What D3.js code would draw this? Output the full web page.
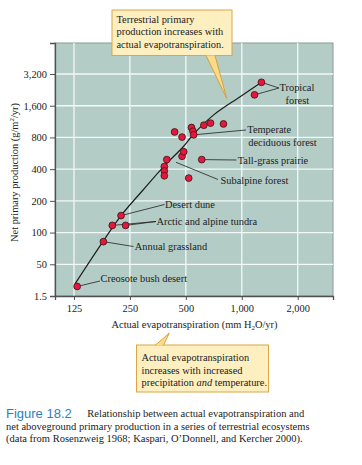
<!DOCTYPE html>
<html>
<head>
<meta charset="utf-8">
<script src="https://cdn.jsdelivr.net/npm/d3@7/dist/d3.min.js"></script>
<style>
  body { margin: 0; background: #fff; }
  svg text { font-family: "Liberation Serif", "Times New Roman", serif; fill: #222; }
</style>
</head>
<body>
<svg id="chart" width="362" height="465"></svg>
<script>
// data
var aet = [130, 180, 201, 237, 224,
    383, 383, 383, 395, 477, 487, 518, 609,
    435, 477, 536, 546, 551, 625, 679, 797,
    1276, 1171];
var npp = [30.8, 82, 117, 117, 145,
    423, 385, 346, 493, 530, 585, 329, 493,
    902, 806, 994, 917, 847, 1045, 1094, 1075,
    2670, 2030];

// fitted curve
var curveAet = [126.6, 180, 224, 295, 383, 484, 548, 701, 975, 1276];
var curveNpp = [32.6, 83.4, 145, 255, 430, 653, 853, 1296, 1937, 2670];

var xTicks = [125, 250, 500, 1000, 2000];
var yTicks = [25, 50, 100, 200, 400, 800, 1600, 3200];
var yTickLabels = ["1.5", "50", "100", "200", "400", "800", "1,600", "3,200"];

(function chart() {
    var svg = d3.select("#chart"),
        left = 55, right = 333, top = 43, bottom = 296;

    var x = d3.scaleLog().domain([98.8, 3097]).range([left, right]),
        y = d3.scaleLog().domain([25, 6304]).range([bottom, top]);

    // plot background
    svg.append("rect")
        .attr("x", left).attr("y", top)
        .attr("width", right - left).attr("height", bottom - top)
        .attr("fill", "#b3ccc6")
        .attr("stroke", "#8c9c98")
        .attr("stroke-width", 1);

    // grid
    svg.append("g").selectAll("line")
        .data(xTicks)
        .enter().append("line")
        .attr("x1", function (d) { return x(d); })
        .attr("x2", function (d) { return x(d); })
        .attr("y1", top).attr("y2", bottom)
        .attr("stroke", "#f4f8f7").attr("stroke-width", 1.3);

    svg.append("g").selectAll("line")
        .data(yTicks.slice(1))
        .enter().append("line")
        .attr("y1", function (d) { return y(d); })
        .attr("y2", function (d) { return y(d); })
        .attr("x1", left).attr("x2", right)
        .attr("stroke", "#f4f8f7").attr("stroke-width", 1.3);

    // axes
    var xAxis = svg.append("g")
        .attr("transform", "translate(0," + bottom + ")")
        .call(d3.axisBottom(x).tickValues(xTicks).tickSize(4).tickPadding(5)
            .tickFormat(d3.format(",")));
    var yAxis = svg.append("g")
        .attr("transform", "translate(" + left + ",0)")
        .call(d3.axisLeft(y).tickValues(yTicks).tickSize(5).tickPadding(3)
            .tickFormat(function (d, i) { return yTickLabels[i]; }));

    [xAxis, yAxis].forEach(function (a) {
        a.select(".domain").attr("stroke", "#505050").attr("stroke-width", 1.3);
        a.selectAll(".tick line").attr("stroke", "#505050").attr("stroke-width", 1);
        a.selectAll("text")
            .attr("font-family", "Liberation Serif")
            .attr("font-size", 10.4)
            .attr("fill", "#222");
    });

    // axis titles
    var xl = svg.append("text")
        .attr("x", 194.5).attr("y", 327.8)
        .attr("text-anchor", "middle")
        .attr("font-size", 10.4);
    xl.append("tspan").text("Actual evapotranspiration (mm H");
    xl.append("tspan").attr("font-size", 7).attr("dy", 2.5).text("2");
    xl.append("tspan").attr("dy", -2.5).text("O/yr)");

    var yl = svg.append("text")
        .attr("transform", "translate(17.5,172.5) rotate(-90)")
        .attr("text-anchor", "middle")
        .attr("font-size", 10.4);
    yl.append("tspan").text("Net primary production (g/m");
    yl.append("tspan").attr("font-size", 7).attr("dy", -4).text("2");
    yl.append("tspan").attr("dy", 4).text("/yr)");

    // leader lines (drawn under the points)
    var leaders = [
        [21, 279, 88], [22, 279, 88],
        [17, 246, 130],
        [12, 236.5, 160],
        [null, 218, 179.5],
        [4, 164.5, 204.5],
        [2, 156, 221.5], [3, 156, 221.5],
        [1, 133.5, 246.5],
        [0, 100, 281]
    ];
    svg.append("g").selectAll("line")
        .data(leaders)
        .enter().append("line")
        .attr("x1", function (d) { return d[0] === null ? 176 : x(aet[d[0]]); })
        .attr("y1", function (d) { return d[0] === null ? 162.3 : y(npp[d[0]]); })
        .attr("x2", function (d) { return d[1]; })
        .attr("y2", function (d) { return d[2]; })
        .attr("stroke", "#222").attr("stroke-width", 0.8);

    // fitted curve
    var pts = curveAet.map(function (d, i) { return [d, curveNpp[i]]; });
    svg.append("path")
        .datum(pts)
        .attr("fill", "none")
        .attr("stroke", "#1e1e1e")
        .attr("stroke-width", 1.2)
        .attr("d", d3.line()
            .x(function (d) { return x(d[0]); })
            .y(function (d) { return y(d[1]); })
            .curve(d3.curveCatmullRom));

    // points
    svg.append("g").selectAll("circle")
        .data(aet)
        .enter().append("circle")
        .attr("cx", function (d) { return x(d); })
        .attr("cy", function (d, i) { return y(npp[i]); })
        .attr("r", 3.4)
        .attr("fill", "#e5173d")
        .attr("stroke", "#3a1515")
        .attr("stroke-width", 0.8);

    // labels
    var labels = [
        ["Tropical", 279.5, 91],
        ["forest", 285.5, 103.5],
        ["Temperate", 247.3, 133.2],
        ["deciduous forest", 248.3, 145.7],
        ["Tall-grass prairie", 237.7, 164],
        ["Subalpine forest", 220.5, 184],
        ["Desert dune", 165, 207.7],
        ["Arctic and alpine tundra", 156.5, 225],
        ["Annual grassland", 134.8, 250],
        ["Creosote bush desert", 100.5, 281.8]
    ];
    svg.append("g").selectAll("text")
        .data(labels)
        .enter().append("text")
        .attr("x", function (d) { return d[1]; })
        .attr("y", function (d) { return d[2]; })
        .attr("font-size", 10.4)
        .text(function (d) { return d[0]; });

    // callouts
    function callout(box, pointer, lines, tx, ty) {
        var g = svg.append("g");
        g.append("rect")
            .attr("x", box[0]).attr("y", box[1])
            .attr("width", box[2]).attr("height", box[3])
            .attr("fill", "#fdefc0")
            .attr("stroke", "#dca645").attr("stroke-width", 1);
        g.append("path")
            .attr("d", "M" + pointer.join("L"))
            .attr("fill", "#f8dc8c")
            .attr("stroke", "#d89a2c").attr("stroke-width", 0.9);
        var t = g.append("text").attr("font-size", 10.4);
        lines.forEach(function (parts, i) {
            parts.forEach(function (p, j) {
                var s = t.append("tspan").text(p[0]);
                if (j === 0) s.attr("x", tx).attr("y", ty + i * 12.6);
                if (p[1]) s.attr("font-style", "italic");
            });
        });
    }

    callout([112, 10, 120, 45.5],
        [[206, 55.5], [226.7, 98.3], [215, 55.5]],
        [[["Terrestrial primary"]], [["production increases with"]], [["actual evapotranspiration."]]],
        116.5, 22.8);

    callout([136.5, 345, 132, 47],
        [[155, 345.5], [169.3, 333], [163.3, 345.5]],
        [[["Actual evapotranspiration"]], [["increases with increased"]],
         [["precipitation "], ["and", true], [" temperature."]]],
        141.5, 361.2);

    // caption
    var cap = svg.append("g");
    cap.append("text")
        .attr("x", 6).attr("y", 417.5)
        .attr("font-family", "Liberation Sans")
        .style("font-family", "Liberation Sans")
        .style("fill", "#2a7fc3")
        .attr("font-size", 13)
        .text("Figure 18.2");
    var capLines = [
        ["Relationship between actual evapotranspiration and", 87.3, 416.8],
        ["net aboveground primary production in a series of terrestrial ecosystems", 6, 429.8],
        ["(data from Rosenzweig 1968; Kaspari, O\u2019Donnell, and Kercher 2000).", 6, 442.3]
    ];
    cap.selectAll("text.cl")
        .data(capLines)
        .enter().append("text")
        .attr("class", "cl")
        .attr("x", function (d) { return d[1]; })
        .attr("y", function (d) { return d[2]; })
        .attr("font-size", 10.5)
        .text(function (d) { return d[0]; });
}());
</script>
</body>
</html>
